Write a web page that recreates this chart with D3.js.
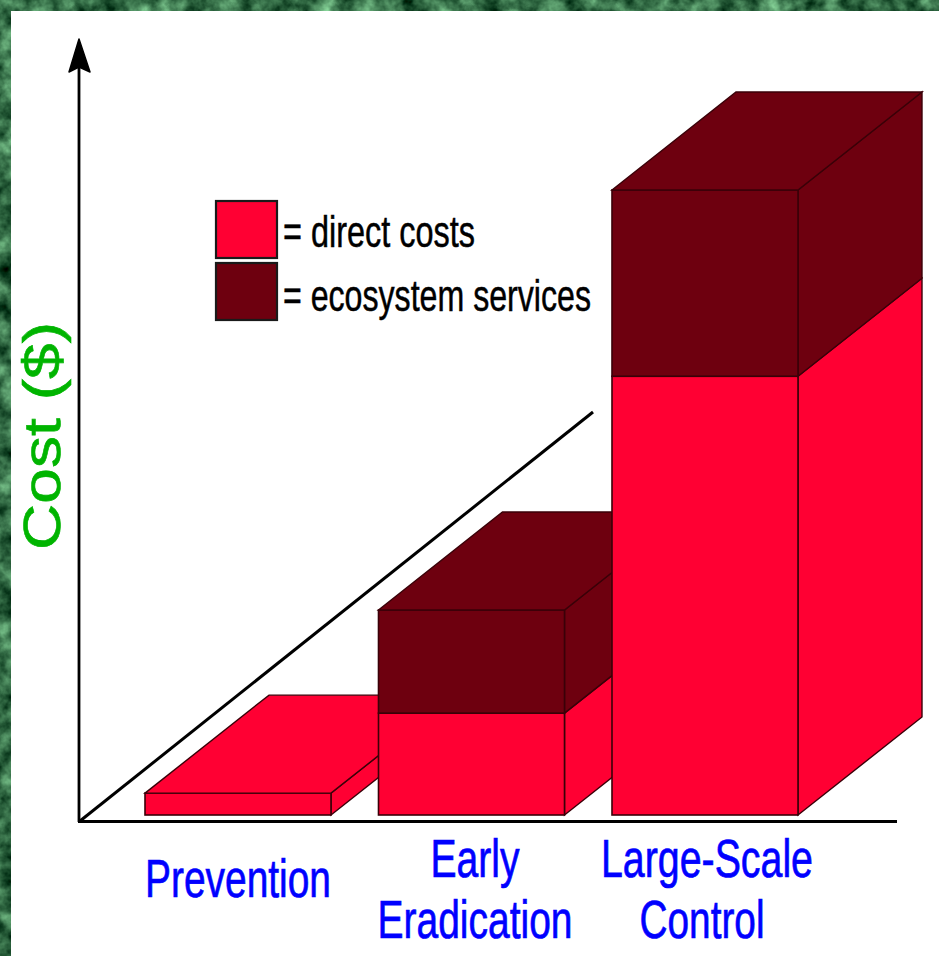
<!DOCTYPE html>
<html>
<head>
<meta charset="utf-8">
<style>
html, body { margin: 0; padding: 0; background: #fff; }
svg { display: block; }
text { font-family: "Liberation Sans", Arial, sans-serif; }
</style>
<script src="https://cdn.jsdelivr.net/npm/d3@7"></script>
</head>
<body>
<div id="chart"></div>
<script>
var categories = ['Prevention', 'Early Eradication', 'Large-Scale Control'];
var directCosts = [3.5, 16.3, 70.2];
var ecosystemServices = [0, 16.5, 29.8];
var seriesNames = ['direct', 'ecosystem'];
var legendLabels = ['= direct costs', '= ecosystem services'];

var width = 939, height = 956;
var red = '#ff0033', maroon = '#6e000f', edge = '#3a0008';
var depthX = 124, depthY = 98;

var svg = d3.select('#chart').append('svg')
	.attr('width', width)
	.attr('height', height);

// marble background, only shows as the strip on the top and left
var filter = svg.append('defs').append('filter')
	.attr('id', 'marble')
	.attr('x', 0).attr('y', 0).attr('width', '100%').attr('height', '100%')
	.attr('color-interpolation-filters', 'sRGB');
filter.append('feTurbulence')
	.attr('type', 'fractalNoise')
	.attr('baseFrequency', '0.05')
	.attr('numOctaves', 4)
	.attr('seed', 7);
filter.append('feColorMatrix')
	.attr('type', 'matrix')
	.attr('values', '0.8 0 0 0 -0.2  1.0 0 0 0 -0.08  0.8 0 0 0 -0.13  0 0 0 0 1');

svg.append('rect')
	.attr('width', width).attr('height', height)
	.attr('filter', 'url(#marble)');
svg.append('rect')
	.attr('x', 11).attr('y', 11)
	.attr('width', width - 11).attr('height', height - 11)
	.attr('fill', '#fff');

var x = d3.scaleBand()
	.domain(categories)
	.range([145, 798])
	.paddingInner(0.2034)
	.paddingOuter(0);

var y = d3.scaleLinear()
	.domain([0, 100])
	.range([815, 190]);

var color = d3.scaleOrdinal().domain(seriesNames).range([red, maroon]);

var rows = categories.map(function(c, i) {
	return { category: c, direct: directCosts[i], ecosystem: ecosystemServices[i] };
});
var stacked = d3.stack().keys(seriesNames)(rows);

function poly(points) {
	return points.map(function(p) { return p.join(','); }).join(' ');
}

// diagonal guide goes under the bars
svg.append('line')
	.attr('x1', 80).attr('y1', 821)
	.attr('x2', 593).attr('y2', 412)
	.attr('stroke', '#000').attr('stroke-width', 3);

// bars are painted left to right so the nearer block hides the one before
var bars = svg.selectAll('g.bar')
	.data(rows)
	.enter().append('g')
	.attr('class', 'bar');

bars.each(function(d, i) {
	var g = d3.select(this);
	var left = x(d.category), right = left + x.bandwidth();
	var segments = stacked.map(function(s) {
		return { key: s.key, y0: s[i][0], y1: s[i][1] };
	}).filter(function(s) { return s.y1 > s.y0; });

	segments.forEach(function(s) {
		// side face
		g.append('polygon')
			.attr('points', poly([
				[right, y(s.y0)],
				[right + depthX, y(s.y0) - depthY],
				[right + depthX, y(s.y1) - depthY],
				[right, y(s.y1)]
			]))
			.attr('fill', color(s.key))
			.attr('stroke', edge).attr('stroke-width', 1.4);
		// front face
		g.append('rect')
			.attr('x', left).attr('y', y(s.y1))
			.attr('width', x.bandwidth())
			.attr('height', y(s.y0) - y(s.y1))
			.attr('fill', color(s.key))
			.attr('stroke', edge).attr('stroke-width', 1.6);
	});

	var top = segments[segments.length - 1];
	g.append('polygon')
		.attr('points', poly([
			[left, y(top.y1)],
			[left + depthX, y(top.y1) - depthY],
			[right + depthX, y(top.y1) - depthY],
			[right, y(top.y1)]
		]))
		.attr('fill', color(top.key))
		.attr('stroke', edge).attr('stroke-width', 1.4);
});

// axes
svg.append('line')
	.attr('x1', 79).attr('y1', 822)
	.attr('x2', 79).attr('y2', 66)
	.attr('stroke', '#000').attr('stroke-width', 2.8);
svg.append('line')
	.attr('x1', 78).attr('y1', 821.5)
	.attr('x2', 897).attr('y2', 821.5)
	.attr('stroke', '#000').attr('stroke-width', 3);
svg.append('path')
	.attr('d', 'M79,39 L90,72 L79,67 L69,72 Z')
	.attr('fill', '#000')
	.attr('stroke', '#000').attr('stroke-width', 1.5).attr('stroke-linejoin', 'round');

// y title, stretched like the original
svg.append('text')
	.attr('transform', 'translate(60,550) rotate(-90)')
	.attr('font-size', 51)
	.attr('fill', '#00b400')
	.attr('stroke', '#00b400').attr('stroke-width', 0.6)
	.attr('textLength', 228)
	.attr('lengthAdjust', 'spacingAndGlyphs')
	.text('Cost ($)');

// category labels
var labelLines = [
	[{ t: 'Prevention', cx: 238, base: 897, w: 186 }],
	[{ t: 'Early', cx: 475, base: 877, w: 89 }, { t: 'Eradication', cx: 475, base: 938, w: 195 }],
	[{ t: 'Large-Scale', cx: 707, base: 877, w: 212 }, { t: 'Control', cx: 702, base: 938, w: 125 }]
];
labelLines.forEach(function(lines) {
	lines.forEach(function(l) {
		svg.append('text')
			.attr('x', l.cx - l.w / 2).attr('y', l.base)
			.attr('font-size', 54)
			.attr('fill', '#0000ff')
			.attr('stroke', '#0000ff').attr('stroke-width', 0.7)
			.attr('textLength', l.w)
			.attr('lengthAdjust', 'spacingAndGlyphs')
			.text(l.t);
	});
});

// legend
var legendWidths = [192, 308];
var legend = svg.selectAll('g.legend')
	.data(seriesNames)
	.enter().append('g')
	.attr('class', 'legend')
	.attr('transform', function(d, i) { return 'translate(216,' + (201 + i * 62) + ')'; });
legend.append('rect')
	.attr('width', 61).attr('height', 57)
	.attr('fill', function(d) { return color(d); })
	.attr('stroke', '#1a1a1a').attr('stroke-width', 2.2);
legend.append('text')
	.attr('x', 67).attr('y', function(d, i) { return 46 + i * 2; })
	.attr('font-size', 44)
	.attr('fill', '#000')
	.attr('stroke', '#000').attr('stroke-width', 0.5)
	.attr('textLength', function(d, i) { return legendWidths[i]; })
	.attr('lengthAdjust', 'spacingAndGlyphs')
	.text(function(d, i) { return legendLabels[i]; });
</script>
</body>
</html>
